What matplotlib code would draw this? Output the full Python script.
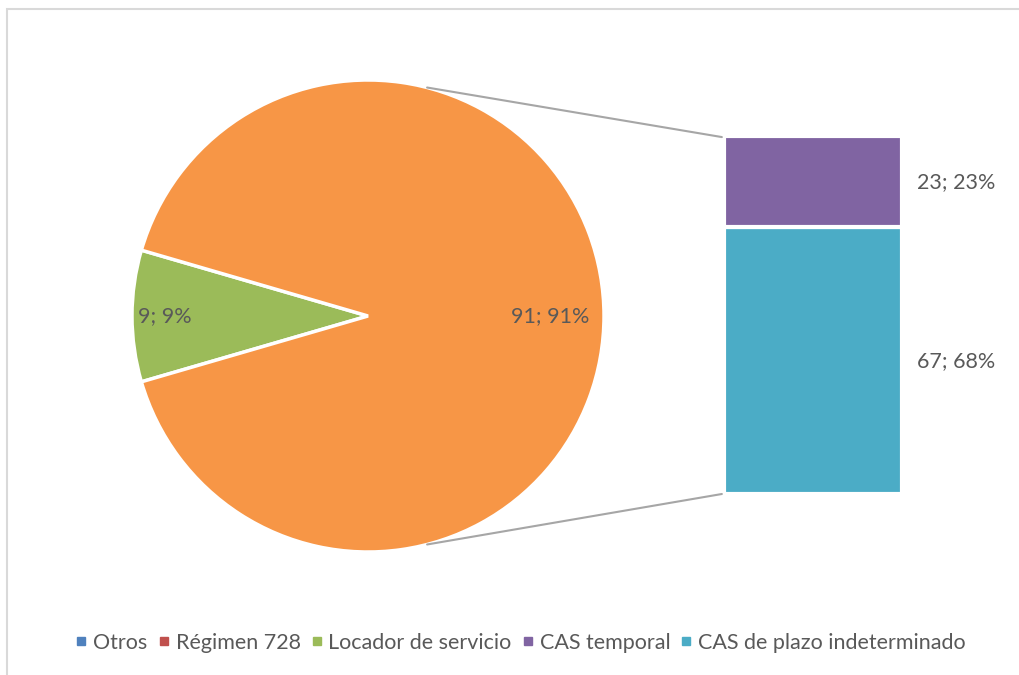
import matplotlib.pyplot as plt
import numpy as np
from matplotlib.lines import Line2D
from matplotlib.patches import ConnectionPatch, Rectangle

plt.rcParams["font.family"] = ["Lato", "DejaVu Sans"]

# --- data -----------------------------------------------------------
legend_names = ["Otros", "Régimen 728", "Locador de servicio",
                "CAS temporal", "CAS de plazo indeterminado"]
legend_colors = ["#4F81BD", "#C0504D", "#9BBB59", "#8064A2", "#4BACC6"]

pie_values = [9, 91]                       # Locador, "otros" (bar)
pie_labels = ["9; 9%", "91; 91%"]
pie_colors = ["#9BBB59", "#F79646"]

bar_values = [67, 23]                      # bottom → top
bar_labels = ["67; 68%", "23; 23%"]
bar_colors = ["#4BACC6", "#8064A2"]

text_col = "#595959"
fs = 15.5
W, H = 1019, 675

fig = plt.figure(figsize=(W / 100, H / 100), dpi=100)

# --- pie ------------------------------------------------------------
cx, cy, r = 368, 316, 236
ax_pie = fig.add_axes([(cx - r) / W, (H - cy - r) / H, 2 * r / W, 2 * r / H])
span = pie_values[0] / sum(pie_values) * 360
wedges, _ = ax_pie.pie(pie_values, colors=pie_colors, startangle=180 - span / 2,
                       wedgeprops=dict(edgecolor="white", linewidth=2.5))
ax_pie.set_xlim(-1, 1)
ax_pie.set_ylim(-1, 1)
ax_pie.axis("off")

label_r = [0.86, 0.77]
for w, lab, lr in zip(wedges, pie_labels, label_r):
    mid = np.deg2rad((w.theta1 + w.theta2) / 2)
    ax_pie.text(lr * np.cos(mid), lr * np.sin(mid), lab, ha="center",
                va="center", fontsize=fs, color=text_col)

# --- bar ------------------------------------------------------------
bx0, bx1, by0, by1 = 724, 902, 136, 494
ax_bar = fig.add_axes([bx0 / W, (H - by1) / H, (bx1 - bx0) / W, (by1 - by0) / H])
bottom = 0
for v, c, lab in zip(bar_values, bar_colors, bar_labels):
    ax_bar.bar(0, v, bottom=bottom, width=1, color=c, edgecolor="white",
               linewidth=3)
    ax_bar.annotate(lab, xy=(0.5, bottom + v / 2), xytext=(11, 0),
                    textcoords="offset points", ha="left", va="center",
                    fontsize=fs, color=text_col)
    bottom += v
ax_bar.set_xlim(-0.5, 0.5)
ax_bar.set_ylim(0, sum(bar_values))
ax_bar.axis("off")

# --- connector lines -----------------------------------------------
ang = np.deg2rad(75.5)
for sgn, yb in [(1, 0.997), (-1, 0.0)]:
    con = ConnectionPatch(xyA=(np.cos(ang), sgn * np.sin(ang)), coordsA=ax_pie.transData,
                          xyB=(-0.012, yb), coordsB=ax_bar.transAxes,
                          color="#a6a6a6", linewidth=1.5)
    fig.add_artist(con)

# --- legend ---------------------------------------------------------
handles = [Line2D([], [], marker="s", linestyle="", markersize=6,
                  markerfacecolor=c, markeredgecolor=c) for c in legend_colors]
fig.legend(handles, legend_names, loc="center", bbox_to_anchor=(521 / W, 1 - 643 / H),
           ncol=5, frameon=False, fontsize=fs, labelcolor=text_col,
           handlelength=0.5, handletextpad=0.3, columnspacing=0.5)

# --- chart border (cropped) ----------------------------------------
fig.add_artist(Rectangle((7 / W, -0.1), 1.2, 1.1 - 9 / H, transform=fig.transFigure,
                         fill=False, edgecolor="#d9d9d9", linewidth=1.5))

fig.savefig("out.png", dpi=100)
